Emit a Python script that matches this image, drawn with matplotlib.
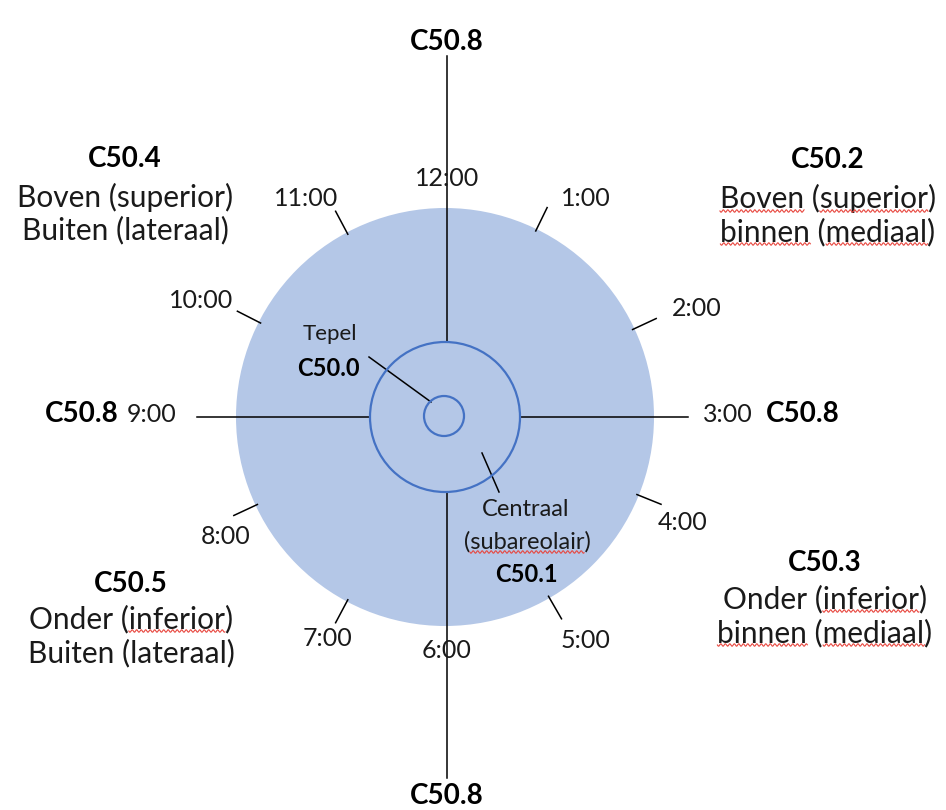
import numpy as np
import matplotlib.pyplot as plt
from matplotlib.patches import Circle

plt.rcParams['font.family'] = ['Lato', 'DejaVu Sans']

# clock positions around the breast
clock_labels = ['12:00', '1:00', '2:00', '3:00', '4:00', '5:00',
                '6:00', '7:00', '8:00', '9:00', '10:00', '11:00']
clock_xy = [(447, 178), (586, 199), (697, 309), (728, 414), (683, 523), (585, 640),
            (447, 650), (327, 638), (226, 536), (152, 414), (201, 300), (306, 199)]
# small ticks (degrees clockwise from 12:00) for the hours without an axis line
tick_angles = [26, 65, 112, 150, 208, 245, 297, 332]

axis_code = 'C50.8'
axis_code_xy = [(447, 42), (447, 796), (82, 414), (803, 414)]

# quadrants: code, two text lines, words underlined by the spell checker
quad_codes = ['C50.2', 'C50.3', 'C50.5', 'C50.4']
quad_lines = [['Boven (superior)', 'binnen (mediaal)'],
              ['Onder (inferior)', 'binnen (mediaal)'],
              ['Onder (inferior)', 'Buiten (lateraal)'],
              ['Boven (superior)', 'Buiten (lateraal)']]
quad_squiggle = [[['Boven', 'superior'], ['binnen', 'mediaal']],
                 [['inferior'], ['binnen', 'mediaal']],
                 [['inferior'], []],
                 [[], []]]
quad_x = [828, 825, 131, 125]
quad_base = [(168, 208, 241), (571, 608, 642), (592, 628, 662), (167, 207, 239)]

cx, cy = 445, 417
R_breast, R_areola, R_nipple = 209, 75, 20

fig = plt.figure(figsize=(9.46, 8.1), dpi=100)
ax = fig.add_axes([0, 0, 1, 1])
ax.set_xlim(0, 946)
ax.set_ylim(810, 0)
ax.axis('off')

ax.add_patch(Circle((cx, cy), R_breast, facecolor='#b4c7e7', edgecolor='none', zorder=1))
ax.add_patch(Circle((cx, cy), R_areola, facecolor='none', edgecolor='#4472c4', lw=1.6, zorder=3))
ax.add_patch(Circle((cx - 1, cy - 1), R_nipple, facecolor='none', edgecolor='#4472c4', lw=1.6, zorder=3))

line_kw = dict(color='black', lw=1.1, zorder=2)
ax.plot([447, 447], [56, cy - R_areola], **line_kw)
ax.plot([447, 447], [cy + R_areola, 778], **line_kw)
ax.plot([197, cx - R_areola], [417, 417], **line_kw)
ax.plot([cx + R_areola, 688], [417, 417], **line_kw)

for a in np.radians(tick_angles):
    r0, r1 = R_breast - 2, R_breast + 24
    ax.plot([cx + r0 * np.sin(a), cx + r1 * np.sin(a)],
            [cy - r0 * np.cos(a), cy - r1 * np.cos(a)], **line_kw)

# leader lines
ax.plot([369, 431], [357, 402], **line_kw)
ax.plot([482, 499], [453, 492], **line_kw)

txt = '#1a1a1a'
for lab, (x, y) in zip(clock_labels, clock_xy):
    ax.text(x, y, lab, ha='center', va='center', fontsize=18, color=txt, zorder=4)

for x, y in axis_code_xy:
    ax.text(x, y, axis_code, ha='center', va='center', fontsize=20, fontweight='bold', color='black', zorder=4)

ax.text(330, 334, 'Tepel', ha='center', va='center', fontsize=16, color=txt, zorder=4)
ax.text(328, 368, 'C50.0', ha='center', va='center', fontsize=17, fontweight='bold', color='black', zorder=4)

ax.text(526, 510, 'Centraal', ha='center', va='center', fontsize=17, color=txt, zorder=4)
ax.text(527, 549, '(subareolair)', ha='center', va='baseline', fontsize=17, color=txt, zorder=4)
ax.text(526, 575, 'C50.1', ha='center', va='center', fontsize=17, fontweight='bold', color='black', zorder=4)

fig.canvas.draw()
renderer = fig.canvas.get_renderer()


def text_width(s, **kw):
    t = ax.text(0, 0, s, **kw)
    w = t.get_window_extent(renderer).width
    t.remove()
    return w


def squiggle(x0, x1, y):
    xs = np.linspace(x0, x1, int((x1 - x0) * 3))
    ys = y + 1.2 * np.sin((xs - x0) * 2 * np.pi / 4.5)
    ax.plot(xs, ys, color='#e8473f', lw=0.8, zorder=5)


def underline_words(line, words, x, base, size):
    full = text_width(line, fontsize=size)
    left = x - full / 2
    for w in words:
        i = line.index(w)
        a = left + (text_width(line[:i], fontsize=size) if i else 0)
        b = left + text_width(line[:i + len(w)], fontsize=size)
        squiggle(a, b, base + 3)


qsize = 21.5
for code, lines, sq, x, bases in zip(quad_codes, quad_lines, quad_squiggle, quad_x, quad_base):
    ax.text(x, bases[0], code, ha='center', va='baseline', fontsize=20, fontweight='bold', color='black')
    for line, words, b in zip(lines, sq, bases[1:]):
        ax.text(x, b, line, ha='center', va='baseline', fontsize=qsize, color=txt)
        underline_words(line, words, x, b, qsize)

underline_words('(subareolair)', ['subareolair'], 527, 549, 17)

fig.savefig('out.png', dpi=100)
